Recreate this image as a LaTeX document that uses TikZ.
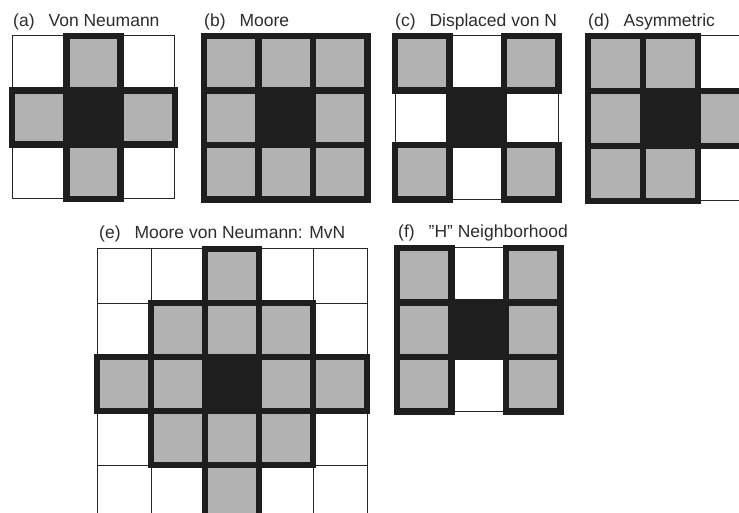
\documentclass[tikz,border=0pt]{standalone}
\usepackage{fontspec}
\setmainfont{Liberation Sans}
\definecolor{cellgray}{RGB}{178,178,178}
\definecolor{cellblack}{RGB}{30,30,30}
\definecolor{labelcol}{RGB}{45,45,45}
\tikzset{
  thinln/.style={line width=1pt, draw=black!85},
  thickln/.style={line width=6.5pt, draw=cellblack},
  grayfill/.style={fill=cellgray},
  blackfill/.style={fill=cellblack},
  lbl/.style={anchor=base west, inner sep=0pt, text=labelcol, font=\fontsize{17.5}{20}\selectfont}
}
\newcommand{\nbpanel}[7]{%
  % #1 x, #2 y, #3 cell size, #4 cols-1, #5 rows-1, #6 gray list, #7 black cell
  \begin{scope}[shift={(#1,#2)}, x=#3pt, y=-#3pt]
    \foreach \i/\j in {#6} \fill[grayfill] (\i,\j) rectangle ++(1,1);
    \foreach \i in {0,...,#4} \foreach \j in {0,...,#5} \draw[thinln] (\i,\j) rectangle ++(1,1);
    \foreach \i/\j in {#6} \draw[thickln] (\i,\j) rectangle ++(1,1);
    \fill[blackfill] (#7) rectangle ++(1,1);
    \draw[thickln] (#7) rectangle ++(1,1);
  \end{scope}}
\begin{document}
\begin{tikzpicture}[x=1pt,y=-1pt]
\useasboundingbox (0,0) rectangle (739,513);
\fill[white] (0,0) rectangle (739,513);
\clip (0,0) rectangle (739,513);
% (a) Von Neumann
\nbpanel{12}{36}{54.3}{2}{2}{1/0,0/1,2/1,1/2}{1,1}
% (b) Moore
\nbpanel{204}{36}{54.5}{2}{2}{0/0,1/0,2/0,0/1,2/1,0/2,1/2,2/2}{1,1}
% (c) Displaced von N
\nbpanel{395}{36}{54.5}{2}{2}{0/0,2/0,0/2,2/2}{1,1}
% (d) Asymmetric
\nbpanel{588}{36}{55}{2}{2}{0/0,0/1,0/2,1/0,1/2,2/1}{1,1}
% (e) Moore von Neumann
\nbpanel{97}{249}{54}{4}{4}{2/0,1/1,2/1,3/1,0/2,1/2,3/2,4/2,1/3,2/3,3/3,2/4}{2,2}
% (f) H neighborhood
\nbpanel{397}{248}{54.5}{2}{2}{0/0,0/1,0/2,2/0,2/1,2/2}{1,1}
% labels
\node[lbl] (la) at (13,27) {(a)\hspace{0.8em}Von Neumann};
\node[lbl] (lb) at (204,27) {(b)\hspace{0.8em}Moore};
\node[lbl] (lc) at (395,27) {(c)\hspace{0.8em}Displaced von N};
\node[lbl] (ld) at (588,27) {(d)\hspace{0.8em}Asymmetric};
\node[lbl] (le) at (99,239) {(e)\hspace{0.8em}Moore von Neumann: MvN};
\node[lbl] (lf) at (398,238) {(f)\hspace{0.8em}"H" Neighborhood};
\end{tikzpicture}
\end{document}
